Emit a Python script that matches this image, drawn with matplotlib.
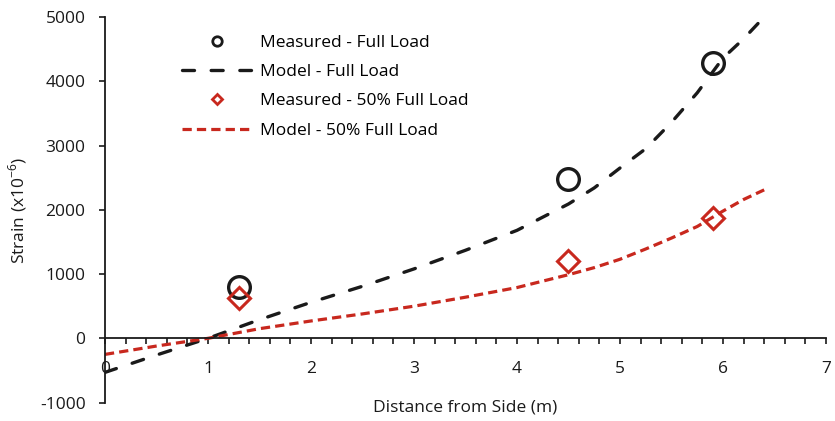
import matplotlib
matplotlib.use("Agg")
import matplotlib.pyplot as plt
from matplotlib.lines import Line2D
from matplotlib.ticker import MultipleLocator

plt.rcParams["font.family"] = ["Open Sans", "DejaVu Sans"]
plt.rcParams["mathtext.fontset"] = "custom"
plt.rcParams["mathtext.rm"] = "Open Sans"
plt.rcParams["axes.unicode_minus"] = False

# measured points
meas_x = [1.3, 4.5, 5.9]
meas_full = [800, 2475, 4290]
meas_half = [620, 1205, 1865]

# model curves
model_x = [0, 0.5, 1.0, 1.5, 2.0, 2.5, 3.0, 3.5, 4.0, 4.5, 4.75, 5.0, 5.25,
           5.5, 5.75, 6.0, 6.2, 6.4]
model_full = [-530, -260, 0, 290, 560, 810, 1080, 1370, 1680, 2090, 2340, 2650, 2950,
              3360, 3820, 4360, 4660, 5000]
model_half = [-250, -120, 0, 150, 270, 380, 500, 640, 790, 990, 1100, 1230, 1390,
              1560, 1740, 1980, 2160, 2310]

BLACK = "#1a1a1a"
RED = "#c8281e"
FS = 12.5

fig = plt.figure(figsize=(8.35, 4.21), dpi=100)
ax = fig.add_axes([0.1257, 0.0437, 0.8635, 0.916])

ax.plot(model_x, model_full, color=BLACK, lw=2.4, linestyle=(0, (3.6, 5.0)),
        dash_capstyle="round")
ax.plot(model_x, model_half, color=RED, lw=2.3, linestyle=(0, (2.9, 1.6)))
ax.plot(meas_x, meas_full, "o", ms=15.6, mfc="none", mec=BLACK, mew=2.4)
ax.plot(meas_x, meas_half, "D", ms=11.3, mfc="none", mec=RED, mew=2.2)

ax.set_xlim(0, 7)
ax.set_ylim(-1000, 5000)
ax.spines["bottom"].set_position(("data", 0))
ax.spines["top"].set_visible(False)
ax.spines["right"].set_visible(False)
for s in ("left", "bottom"):
    ax.spines[s].set_linewidth(1.3)
    ax.spines[s].set_color(BLACK)

ax.xaxis.set_major_locator(MultipleLocator(1))
ax.xaxis.set_minor_locator(MultipleLocator(0.2))
ax.yaxis.set_major_locator(MultipleLocator(1000))
ax.tick_params(axis="x", which="both", direction="out", length=4.5, width=1.2,
               labelsize=FS, pad=11.5, colors=BLACK)
ax.tick_params(axis="y", which="major", direction="out", length=4.5, width=1.2,
               labelsize=FS, pad=9.5, colors=BLACK)

fig.text(0.557, 1 - 408 / 421, "Distance from Side (m)", ha="center", va="center",
         fontsize=FS, color=BLACK)
fig.text(0.021, 0.50, "Strain (x10$^{-6}$)", ha="center", va="center",
         rotation=90, fontsize=FS, color=BLACK)

handles = [
    Line2D([], [], ls="none", marker="o", ms=6.8, mfc="none", mec=BLACK, mew=2.0),
    Line2D([], [], color=BLACK, lw=2.4, ls=(0, (3.6, 5.0)), dash_capstyle="round"),
    Line2D([], [], ls="none", marker="D", ms=5.0, mfc="none", mec=RED, mew=2.0),
    Line2D([], [], color=RED, lw=2.3, ls=(0, (2.9, 1.6))),
]
labels = ["Measured - Full Load", "Model - Full Load",
          "Measured - 50% Full Load", "Model - 50% Full Load"]
ax.legend(handles, labels, loc="upper left", bbox_to_anchor=(0.218, 1 - 35 / 421),
          bbox_transform=fig.transFigure, frameon=False, fontsize=FS,
          handlelength=4.0, handletextpad=0.5, labelspacing=0.75,
          borderpad=0, borderaxespad=0, numpoints=1)

fig.savefig("out.png", dpi=100)
